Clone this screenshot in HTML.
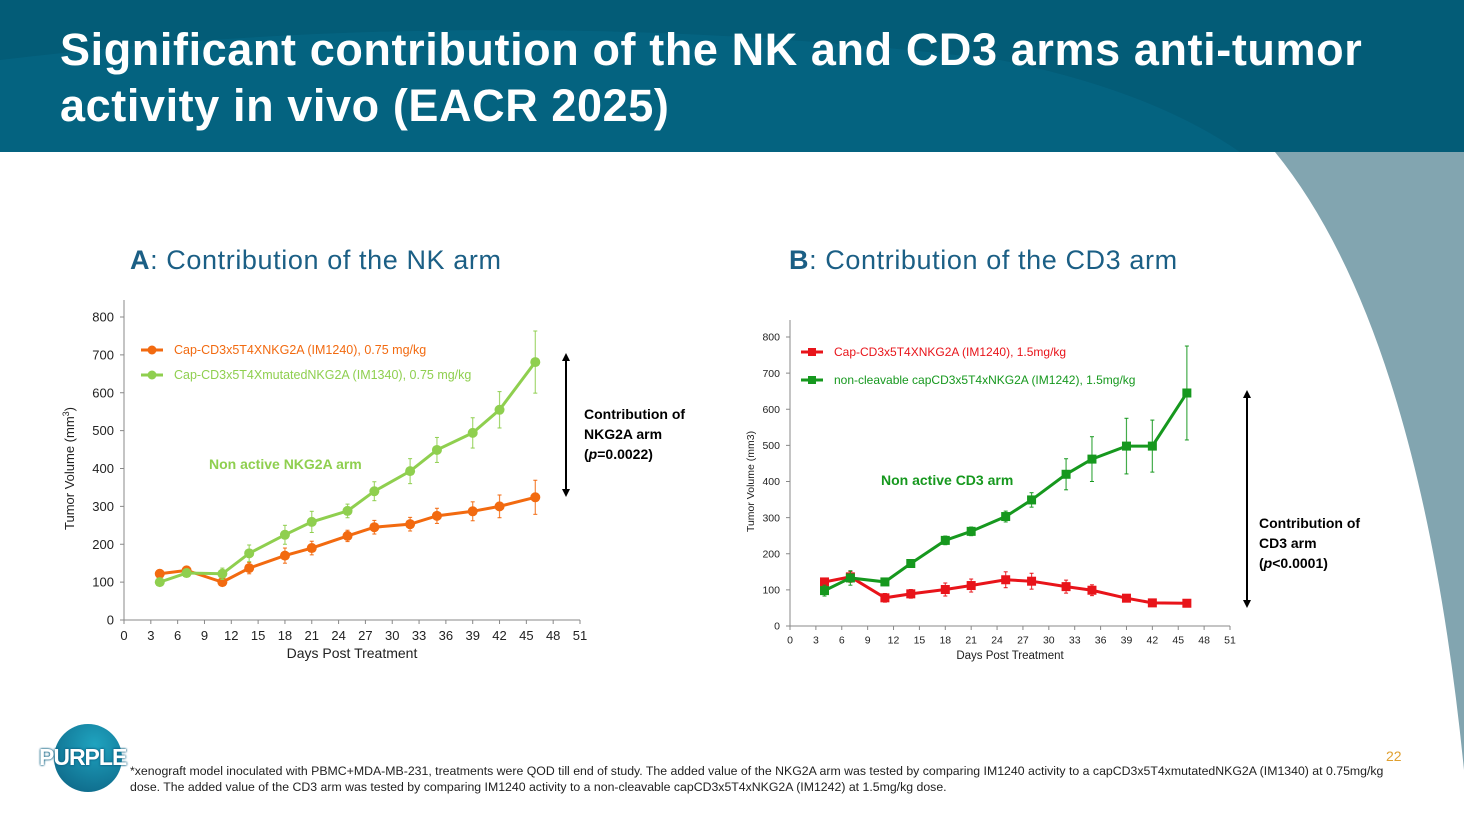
<!DOCTYPE html>
<html><head><meta charset="utf-8">
<style>
body{margin:0;width:1464px;height:820px;overflow:hidden;background:#fff;font-family:"Liberation Sans",sans-serif;position:relative}
.abs{position:absolute}
</style></head><body>
<svg class="abs" style="left:0;top:0" width="1464" height="820">
<rect x="0" y="0" width="1464" height="152" fill="#035c77"/>
<path d="M0,152 L0,60 Q500,0 1000,60 Q1150,90 1240,152 Z" fill="#05698a" opacity="0.5"/>
<path d="M1275,152 Q1420,330 1464,770 L1464,152 Z" fill="#82a5b0"/>
</svg>
<div class="abs" style="left:60px;top:22px;color:#fff;font-size:45px;font-weight:bold;line-height:56px;letter-spacing:0.6px">Significant contribution of the NK and CD3 arms anti-tumor<br>activity in vivo (EACR 2025)</div>
<div class="abs" style="left:130px;top:245px;font-size:27px;color:#1b5f85;letter-spacing:0.6px"><b>A</b>: Contribution of the NK arm</div>
<div class="abs" style="left:789px;top:245px;font-size:27px;color:#1b5f85;letter-spacing:0.6px"><b>B</b>: Contribution of the CD3 arm</div>
<svg id="chartA" class="abs" style="left:0;top:0" width="1464" height="820"></svg>
<div class="abs" style="left:584px;top:404px;font-size:14px;font-weight:bold;line-height:20px">Contribution of<br>NKG2A arm<br>(<i>p</i>=0.0022)</div>
<div class="abs" style="left:1259px;top:513px;font-size:14px;font-weight:bold;line-height:20px">Contribution of<br>CD3 arm<br>(<i>p</i>&lt;0.0001)</div>
<div class="abs" style="left:54px;top:724px;width:68px;height:68px;border-radius:50%;background:radial-gradient(circle at 60% 30%,#1fa3bf,#0b5f80)"></div>
<div class="abs" style="left:39px;top:744px;font-size:23px;font-weight:bold;color:#fff;letter-spacing:-1px;text-shadow:0 0 2px #0b5f80,0 0 2px #0b5f80">PURPLE</div>
<div class="abs" style="left:1386px;top:748px;font-size:14px;color:#e0a030">22</div>
<div class="abs" style="left:130px;top:763px;font-size:12.3px;line-height:16px;color:#222;white-space:nowrap">*xenograft model inoculated with PBMC+MDA-MB-231, treatments were QOD till end of study. The added value of the NKG2A arm was tested by comparing IM1240 activity to a capCD3x5T4xmutatedNKG2A (IM1340) at 0.75mg/kg<br>dose. The added value of the CD3 arm was tested by comparing IM1240 activity to a non-cleavable capCD3x5T4xNKG2A (IM1242) at 1.5mg/kg dose.</div>
<script>
const days=[4,7,11,14,18,21,25,28,32,35,39,42,46];
const aOrange=[122,131,100,137,170,190,222,245,253,275,287,300,324];
const aOrangeErr=[8,8,8,15,20,18,15,18,18,20,25,30,45];
const aGreen=[100,124,122,176,225,259,288,340,393,449,494,555,681];
const aGreenErr=[8,10,15,22,25,28,18,25,33,33,40,48,82];
const bRed=[122,136,78,89,101,112,128,124,109,99,77,64,63];
const bRedErr=[8,15,12,12,18,18,22,22,18,15,10,8,8];
const bGreen=[98,133,122,173,237,262,303,349,420,462,498,498,645];
const bGreenErr=[15,20,8,10,12,12,15,20,43,62,77,72,130];
const xTicks=[0,3,6,9,12,15,18,21,24,27,30,33,36,39,42,45,48,51];
const yTicks=[0,100,200,300,400,500,600,700,800];
const svg=document.getElementById('chartA');
const NS='http://www.w3.org/2000/svg';
function mk(t,a,p){const e=document.createElementNS(NS,t);for(const k in a)e.setAttribute(k,a[k]);(p||svg).appendChild(e);return e;}
function chart(c){
 const X=v=>c.x0+(c.x1-c.x0)*v/51, Y=v=>c.y0-(c.y0-c.y8)*v/800;
 const g=mk('g',{});
 
 
 mk('line',{x1:c.x0,y1:c.top,x2:c.x0,y2:c.y0,stroke:'#888'},g);
 mk('line',{x1:c.x0,y1:c.y0,x2:c.x1,y2:c.y0,stroke:'#888'},g);
 yTicks.forEach(v=>{mk('line',{x1:c.x0-4,x2:c.x0,y1:Y(v),y2:Y(v),stroke:'#888'},g);
  const t=mk('text',{x:c.x0-10,y:Y(v)+c.fs*0.35,'text-anchor':'end','font-size':c.fs,fill:'#222'},g);t.textContent=v;
  
  });
 xTicks.forEach(v=>{mk('line',{x1:X(v),x2:X(v),y1:c.y0,y2:c.y0+4,stroke:'#888'},g);
  const t=mk('text',{x:X(v),y:c.y0+c.fs+7,'text-anchor':'middle','font-size':c.fs,fill:'#222'},g);t.textContent=v;
  
  });
 const xt=mk('text',{x:(c.x0+c.x1)/2,y:c.y0+c.fs*2+12,'text-anchor':'middle','font-size':c.fs+1,fill:'#222'},g);xt.textContent='Days Post Treatment';
 
 
 const yt=mk('text',{x:0,y:0,'text-anchor':'middle','font-size':c.fs,fill:'#222',transform:`translate(${c.yx},${(c.y0+c.y8)/2}) rotate(-90)`},g);yt.innerHTML=c.ytitle;
 
 
 c.series.forEach((s,si)=>{
  s.vals.forEach((v,i)=>{const x=X(days[i]);mk('line',{x1:x,x2:x,y1:Y(v-s.err[i]),y2:Y(v+s.err[i]),stroke:s.col,'stroke-width':1.2,opacity:0.8},g);
   mk('line',{x1:x-2,x2:x+2,y1:Y(v+s.err[i]),y2:Y(v+s.err[i]),stroke:s.col},g);mk('line',{x1:x-2,x2:x+2,y1:Y(v-s.err[i]),y2:Y(v-s.err[i]),stroke:s.col},g);});
  const l=mk('polyline',{points:s.vals.map((v,i)=>X(days[i])+','+Y(v)).join(' '),fill:'none',stroke:s.col,'stroke-width':3},g);
  
  
  s.vals.forEach((v,i)=>{const x=X(days[i]),y=Y(v);
   const m=c.square?mk('rect',{x:x-4.5,y:y-4.5,width:9,height:9,fill:s.col},g):mk('circle',{cx:x,cy:y,r:5,fill:s.col},g);
   
   });
  const ly=c.legY+si*c.legDy;
  mk('line',{x1:c.legX,x2:c.legX+22,y1:ly,y2:ly,stroke:s.col,'stroke-width':3},g);
  c.square?mk('rect',{x:c.legX+7,y:ly-4,width:8,height:8,fill:s.col},g):mk('circle',{cx:c.legX+11,cy:ly,r:4.5,fill:s.col},g);
  const lt=mk('text',{x:c.legX+33,y:ly+4,'font-size':c.lfs,fill:s.col},g);lt.textContent=s.label;
  
  
 });
 const an=mk('text',{x:c.annX,y:c.annY,'font-size':14,'font-weight':'bold',fill:c.series[1].col},g);an.textContent=c.ann;
 
 
 mk('line',{x1:c.arX,x2:c.arX,y1:c.arY1+6,y2:c.arY2-6,stroke:'#000','stroke-width':2},g);
 mk('path',{d:`M${c.arX-4},${c.arY1+8} L${c.arX},${c.arY1} L${c.arX+4},${c.arY1+8} Z M${c.arX-4},${c.arY2-8} L${c.arX},${c.arY2} L${c.arX+4},${c.arY2-8} Z`,fill:'#000'},g);
}
chart({name:'chart-a',x0:124,x1:580,y0:620,y8:317,top:300,fs:13,lfs:12.5,yx:74,ytitle:'Tumor Volume (mm<tspan dy="-5" font-size="9">3</tspan><tspan dy="5">)</tspan>',square:false,legX:141,legY:350,legDy:25,
 series:[{name:'im1240-orange',vals:aOrange,err:aOrangeErr,col:'#f26a10',label:'Cap-CD3x5T4XNKG2A (IM1240), 0.75 mg/kg'},{name:'im1340-green',vals:aGreen,err:aGreenErr,col:'#8fcf4f',label:'Cap-CD3x5T4XmutatedNKG2A (IM1340), 0.75 mg/kg'}],
 ann:'Non active NKG2A arm',annX:209,annY:469,arX:566,arY1:353,arY2:497});
chart({name:'chart-b',x0:790,x1:1230,y0:626,y8:337,top:320,fs:10.5,lfs:12,yx:754,ytitle:'Tumor Volume (mm3)',square:true,legX:801,legY:352,legDy:28,
 series:[{name:'im1240-red',vals:bRed,err:bRedErr,col:'#e8141a',label:'Cap-CD3x5T4XNKG2A (IM1240), 1.5mg/kg'},{name:'im1242-green',vals:bGreen,err:bGreenErr,col:'#16981e',label:'non-cleavable capCD3x5T4xNKG2A (IM1242), 1.5mg/kg'}],
 ann:'Non active CD3 arm',annX:881,annY:485,arX:1247,arY1:390,arY2:608});
</script>
</body></html>
